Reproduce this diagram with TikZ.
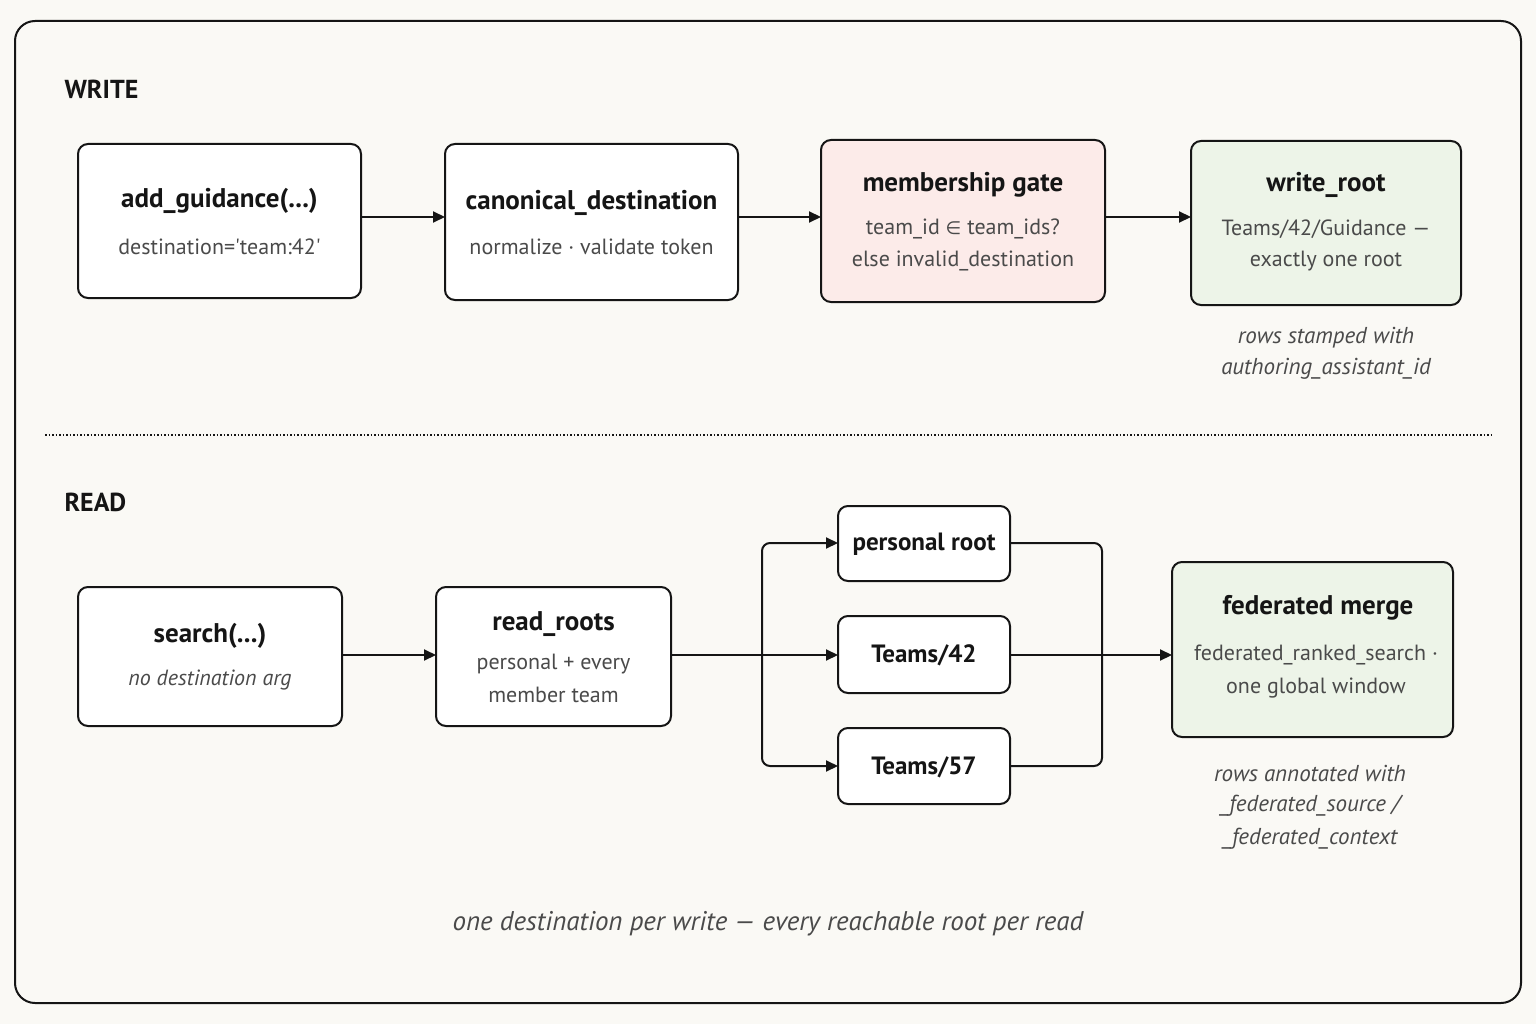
\documentclass[tikz,border=0pt]{standalone}
\usepackage{fontspec}
\setmainfont{PT Sans}
\newfontfamily\qfont{PT Sans}
\newfontfamily\symfont{DejaVu Sans}
\usetikzlibrary{arrows.meta}
\definecolor{bgc}{HTML}{FAF9F5}
\definecolor{ink}{HTML}{151515}
\definecolor{sub}{HTML}{4A4A4A}
\definecolor{pinkf}{HTML}{FCEBE9}
\definecolor{greenf}{HTML}{EDF4E8}
\tikzset{
  box/.style={draw=ink, line width=2pt, rounded corners=10pt, fill=white},
  ttl/.style={font=\fontsize{27}{32}\selectfont\bfseries, text=ink},
  ttls/.style={font=\fontsize{25}{30}\selectfont\bfseries, text=ink},
  subt/.style={font=\fontsize{22}{27}\selectfont, text=sub},
  note/.style={font=\fontsize{23}{28}\selectfont\itshape, text=sub},
  conn/.style={draw=ink, line width=2pt, -{Triangle[length=12pt,width=11pt]}},
  plain/.style={draw=ink, line width=2pt, rounded corners=8pt},
  hdr/.style={font=\fontsize{26}{31}\selectfont\bfseries, text=ink, anchor=west}
}
\begin{document}
\begin{tikzpicture}[x=1pt,y=-1pt]
\useasboundingbox[fill=bgc] (0,0) rectangle (1536,1024);
\draw[draw=ink, line width=2pt, rounded corners=20pt] (15,21) rectangle (1521,1003);

\node[hdr] (hw) at (61,89) {WRITE};
\draw[ink, line width=1.5pt, dotted] (45,435) -- (1492,435);
\node[hdr] (hr) at (61,502) {READ};

% WRITE row
\draw[box] (78,144) rectangle (361,298);
\node[ttl] (t1) at (219.5,201) {add\_guidance(...)};
\node[subt] at (219.5,247) {destination={\qfont '}team:42{\qfont '}};
\coordinate (a1) at (361,217);
\coordinate (b1) at (445,217);

\draw[box] (445,144) rectangle (738,300);
\node[ttl] at (591.5,203) {canonical\_destination};
\node[subt] at (591.5,247) {normalize · validate token};
\coordinate (a2) at (738,217);
\coordinate (b2) at (821,217);

\draw[box, fill=pinkf] (821,140) rectangle (1105,302);
\node[ttl] at (963,185) {membership gate};
\node[subt] at (963,229) {team\_id {\symfont\fontsize{18}{22}\selectfont ∈} team\_ids?};
\node[subt] at (963,261) {else invalid\_destination};
\coordinate (a3) at (1105,217);
\coordinate (b3) at (1191,217);

\draw[box, fill=greenf] (1191,141) rectangle (1461,305);
\node[ttl] at (1326,185) {write\_root};
\node[subt] at (1326,229) {Teams/42/Guidance —};
\node[subt] at (1326,261) {exactly one root};

\node[note] at (1326,338) {rows stamped with};
\node[note] at (1326,369) {authoring\_assistant\_id};

\draw[conn] (a1) -- (b1);
\draw[conn] (a2) -- (b2);
\draw[conn] (a3) -- (b3);

% READ row
\draw[box] (78,587) rectangle (342,726);
\node[ttl] at (210,636) {search(...)};
\node[note, font=\fontsize{22}{27}\selectfont\itshape] at (210,680) {no destination arg};
\coordinate (c1) at (342,655);
\coordinate (d1) at (436,655);

\draw[box] (436,587) rectangle (671,726);
\node[ttl] at (553.5,624) {read\_roots};
\node[subt] at (553.5,664) {personal + every};
\node[subt] at (553.5,695) {member team};
\coordinate (c2) at (671,655);

\draw[box] (838,506) rectangle (1010,581);
\node[ttls] at (924,544) {personal root};
\draw[box] (838,616) rectangle (1010,693);
\node[ttls] at (924,655) {Teams/42};
\draw[box] (838,728) rectangle (1010,804);
\node[ttls] at (924,767) {Teams/57};

\coordinate (pl) at (838,543);
\coordinate (tl) at (838,655);
\coordinate (sl) at (838,766);
\coordinate (pr) at (1010,543);
\coordinate (tr) at (1010,655);
\coordinate (sr) at (1010,766);
\coordinate (fork) at (762,655);

\draw[box, fill=greenf] (1172,562) rectangle (1453,737);
\node[ttl] at (1318,608) {federated merge};
\node[subt] at (1316,655) {federated\_ranked\_search ·};
\node[subt] at (1316,688) {one global window};
\coordinate (fl) at (1172,655);

\node[note] at (1310,773) {rows annotated with};
\node[note] at (1310,806) {\_federated\_source /};
\node[note] at (1310,839) {\_federated\_context};

\draw[conn] (c1) -- (d1);
\draw[conn] (c2) -- (tl);
\draw[conn, rounded corners=8pt] (fork) -- (762,543) -- (pl);
\draw[conn, rounded corners=8pt] (fork) -- (762,766) -- (sl);
\draw[plain] (pr) -- (1102,543) -- (1102,766) -- (sr);
\draw[conn] (tr) -- (fl);

\node[font=\fontsize{27}{32}\selectfont\itshape, text=sub] (foot) at (768,924) {one destination per write — every reachable root per read};
\end{tikzpicture}
\end{document}
